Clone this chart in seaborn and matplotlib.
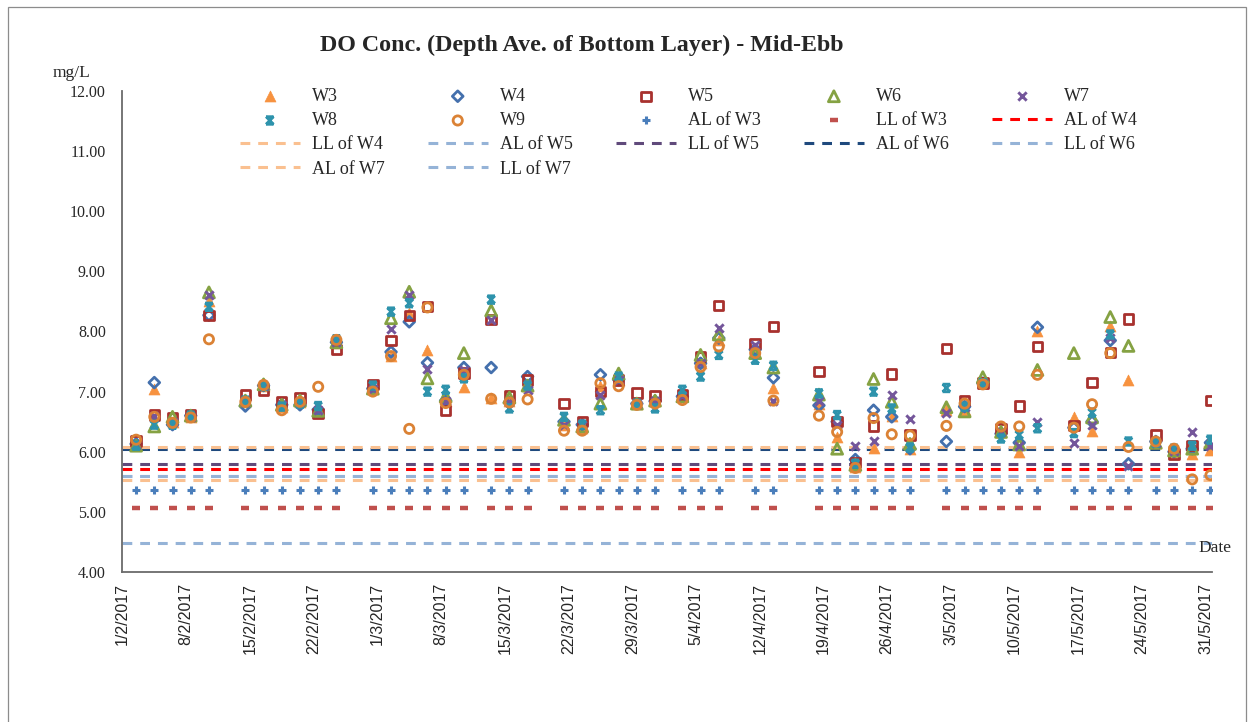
import numpy as np
import pandas as pd
import matplotlib
matplotlib.use("Agg")
import matplotlib.pyplot as plt
from matplotlib.path import Path
from matplotlib.patches import Rectangle
import seaborn as sns

# sampling dates (dd/mm)
dates = ["2/2", "4/2", "6/2", "8/2", "10/2", "14/2", "16/2", "18/2", "20/2", "22/2", "24/2", "28/2",
         "2/3", "4/3", "6/3", "8/3", "10/3", "13/3", "15/3", "17/3", "21/3", "23/3", "25/3", "27/3", "29/3", "31/3",
         "3/4", "5/4", "7/4", "11/4", "13/4", "18/4", "20/4", "22/4", "24/4", "26/4", "28/4",
         "2/5", "4/5", "6/5", "8/5", "10/5", "12/5", "16/5", "18/5", "20/5", "22/5", "25/5", "27/5", "29/5", "31/5"]

w3 = [6.15, 7.04, 6.50, 6.58, 8.50, 6.83, 7.10, 6.75, 6.83, 6.70, 7.80, 7.05, 7.60, 8.30, 7.69, 6.85, 7.07,
      6.89, 6.85, 7.10, 6.45, 6.40, 7.10, 7.20, 6.80, 6.84, 6.92, 7.47, 7.85, 7.64, 7.06, 6.80, 6.25, 5.75,
      6.07, 6.60, 6.05, 6.70, 6.70, 7.14, 6.33, 6.00, 8.00, 6.58, 6.35, 8.09, 7.19, 6.15, 6.00, 5.96, 6.03]
w4 = [6.13, 7.15, 6.45, 6.60, 8.27, 6.76, 7.10, 6.78, 6.78, 6.70, 7.82, 7.05, 7.66, 8.16, 7.48, 6.85, 7.40,
      7.40, 6.82, 7.25, 6.50, 6.45, 7.28, 7.20, 6.80, 6.84, 6.92, 7.47, 7.89, 7.70, 7.23, 6.77, 6.50, 5.87,
      6.69, 6.58, 6.05, 6.17, 6.75, 7.14, 6.30, 6.15, 8.07, 6.40, 6.50, 7.85, 5.80, 6.17, 6.00, 6.05, 6.15]
w5 = [6.18, 6.61, 6.57, 6.62, 8.27, 6.94, 7.03, 6.83, 6.89, 6.64, 7.70, 7.12, 7.85, 8.27, 8.42, 6.69, 7.31,
      8.20, 6.93, 7.19, 6.80, 6.50, 7.00, 7.19, 6.98, 6.93, 6.94, 7.58, 8.43, 7.80, 8.08, 7.33, 6.50, 5.82,
      6.43, 7.29, 6.28, 7.72, 6.85, 7.14, 6.39, 6.76, 7.75, 6.44, 7.15, 7.65, 8.21, 6.28, 5.96, 6.10, 6.85]
w6 = [6.10, 6.42, 6.58, 6.60, 8.65, 6.85, 7.12, 6.78, 6.85, 6.68, 7.82, 7.05, 8.22, 8.66, 7.22, 6.92, 7.64,
      8.35, 6.90, 7.10, 6.53, 6.42, 6.80, 7.30, 6.80, 6.85, 6.92, 7.61, 7.95, 7.64, 7.40, 6.95, 6.05, 5.78,
      7.21, 6.83, 6.13, 6.74, 6.67, 7.24, 6.33, 6.12, 7.36, 7.64, 6.57, 8.24, 7.76, 6.15, 6.02, 6.05, 6.15]
w7 = [6.12, 6.60, 6.50, 6.58, 8.60, 6.83, 7.10, 6.78, 6.83, 6.70, 7.82, 7.05, 8.04, 8.60, 7.37, 6.85, 7.36,
      8.19, 6.82, 7.03, 6.45, 6.45, 6.94, 7.20, 6.80, 6.84, 6.92, 7.47, 8.06, 7.78, 6.85, 6.85, 6.45, 6.10,
      6.17, 6.94, 6.54, 6.65, 6.75, 7.14, 6.33, 6.10, 6.50, 6.14, 6.44, 7.89, 5.77, 6.15, 6.02, 6.33, 6.10]
w8 = [6.10, 6.45, 6.45, 6.60, 8.41, 6.85, 7.10, 6.75, 6.80, 6.76, 7.87, 7.10, 8.33, 8.47, 7.00, 7.03, 7.22,
      8.53, 6.72, 7.10, 6.58, 6.45, 6.69, 7.25, 6.80, 6.72, 7.03, 7.25, 7.61, 7.53, 7.43, 6.97, 6.61, 5.80,
      7.00, 6.72, 6.07, 7.06, 6.75, 7.14, 6.22, 6.28, 6.39, 6.31, 6.65, 7.95, 6.17, 6.15, 6.05, 6.10, 6.20]
w9 = [6.20, 6.58, 6.48, 6.57, 7.87, 6.83, 7.11, 6.69, 6.83, 7.08, 7.86, 7.00, 7.59, 6.38, 8.40, 6.81, 7.28,
      6.88, 6.82, 6.87, 6.35, 6.35, 7.14, 7.09, 6.78, 6.80, 6.86, 7.41, 7.75, 7.64, 6.85, 6.60, 6.33, 5.73,
      6.56, 6.29, 6.27, 6.43, 6.80, 7.12, 6.42, 6.42, 7.28, 6.40, 6.79, 7.64, 6.08, 6.17, 6.05, 5.54, 5.61]

# action / limit levels (mg/L)
al_w3 = 5.36
ll_w3 = 5.07
ll_w4 = 5.53
al_w4 = 5.71
al_w5 = 5.60
ll_w5 = 5.79
al_w6 = 6.05
ll_w6 = 5.60
al_w7 = 6.08
ll_w7 = 4.49

sns.set_theme(style="white")
plt.rcParams["font.family"] = ["Liberation Serif", "DejaVu Serif"]

x = pd.to_datetime([d + "/2017" for d in dates], format="%d/%m/%Y") + pd.Timedelta(hours=12)

# Excel-like "star" marker for W8
hourglass = Path([(-1, 1), (1, 1), (-1, -1), (1, -1), (-1, 1), (1, -1), (1, 1), (-1, -1)],
                 [Path.MOVETO, Path.LINETO, Path.MOVETO, Path.LINETO,
                  Path.MOVETO, Path.LINETO, Path.MOVETO, Path.LINETO])

fig = plt.figure(figsize=(12.52, 7.22), dpi=100)
ax = fig.add_axes([0.0978, 0.2078, 0.8702, 0.6662])

stations = [
    ("W3", w3, "^", "#F7923F", True),
    ("W4", w4, "D", "#4470AD", False),
    ("W5", w5, "s", "#A8312E", False),
    ("W6", w6, "^", "#85A243", False),
    ("W7", w7, "x", "#74569A", None),
    ("W8", w8, hourglass, "#2E93AC", False),
    ("W9", w9, "o", "#DB8235", False),
]
sizes = {"^": 62, "D": 30, "s": 46, "x": 36, "o": 44}
for name, vals, mk, col, filled in stations:
    s = sizes.get(mk, 30) if isinstance(mk, str) else 30
    if filled is True:
        kw = dict(color=col, edgecolor=col, linewidth=0.5)
    elif filled is False:
        kw = dict(facecolor="none", edgecolor=col, linewidth=2.0)
    else:
        kw = dict(color=col, linewidth=2.1)
    sns.scatterplot(x=x, y=vals, marker=mk, s=s, ax=ax, label=name, zorder=4, **kw)

sns.scatterplot(x=x, y=[al_w3] * len(x), marker="+", s=40, color="#4A7EBB", linewidth=2.2,
                ax=ax, label="AL of W3", zorder=3)
sns.scatterplot(x=x, y=[ll_w3] * len(x), marker="_", s=36, color="#C0504D", linewidth=3.2,
                ax=ax, label="LL of W3", zorder=3)

limits = [
    ("AL of W4", al_w4, "#FF0000"),
    ("LL of W4", ll_w4, "#FAC090"),
    ("AL of W5", al_w5, "#95B3D7"),
    ("LL of W5", ll_w5, "#604A7B"),
    ("AL of W6", al_w6, "#1F497D"),
    ("LL of W6", ll_w6, "#95B3D7"),
    ("AL of W7", al_w7, "#FAC090"),
    ("LL of W7", ll_w7, "#95B3D7"),
]
for name, val, col in limits:
    ax.axhline(val, color=col, linewidth=2.2, dashes=(3.2, 2.6), label=name, zorder=2)

ax.set_xlim(pd.Timestamp("2017-02-01"), pd.Timestamp("2017-05-31 16:00"))
ax.set_ylim(4, 12)
ax.set_yticks(np.arange(4, 12.01, 1))
ax.set_yticklabels([f"{v:.2f}" for v in np.arange(4, 12.01, 1)], fontsize=11.5)
ticks = pd.date_range("2017-02-01", "2017-05-31", freq="7D")
ax.set_xticks(ticks)
ax.set_xticklabels([f"{t.day}/{t.month}/{t.year}" for t in ticks], rotation=90,
                   fontsize=11.5, family=["Liberation Sans Narrow", "Liberation Sans"])
ax.tick_params(axis="both", direction="in", color="#595959", width=1)
ax.tick_params(axis="y", length=7, pad=12)
ax.tick_params(axis="x", length=5, pad=8)
ax.set_xlabel("")
ax.set_ylabel("")
for sp in ["top", "right"]:
    ax.spines[sp].set_visible(False)
for sp in ["left", "bottom"]:
    ax.spines[sp].set_color("#6b6b6b")
    ax.spines[sp].set_linewidth(1.3)

# legend, Excel row-major order -> matplotlib column-major
h, l = ax.get_legend_handles_labels()
hmap = dict(zip(l, h))
rows = [["W3", "W4", "W5", "W6", "W7"],
        ["W8", "W9", "AL of W3", "LL of W3", "AL of W4"],
        ["LL of W4", "AL of W5", "LL of W5", "AL of W6", "LL of W6"],
        ["AL of W7", "LL of W7"]]
order = []
for c in range(5):
    for r in rows:
        if c < len(r):
            order.append(r[c])
ax.legend([hmap[k] for k in order], order, ncol=5, loc="upper left",
          bbox_to_anchor=(240 / 1252, 1 - 88 / 722), bbox_transform=fig.transFigure,
          frameon=False, fontsize=13, handlelength=3.3, handletextpad=0.7,
          columnspacing=2.38, labelspacing=0.4, borderpad=0, borderaxespad=0, scatterpoints=1)

fig.text(582 / 1252, 1 - 45 / 722, "DO Conc. (Depth Ave. of Bottom Layer) - Mid-Ebb",
         ha="center", va="center", fontsize=17.3, fontweight="bold")
fig.text(72 / 1252, 1 - 73 / 722, "mg/L", ha="center", va="center", fontsize=12.5)
ax.text(1.0025, 0.05, "Date", transform=ax.transAxes, ha="center", va="center", fontsize=12.5)

fig.patches.append(Rectangle((8 / 1252, -0.01), 1238 / 1252, 1.01 - 7 / 722, transform=fig.transFigure,
                             fill=False, edgecolor="#8c8c8c", linewidth=0.9))

fig.savefig("out.png", dpi=100)
